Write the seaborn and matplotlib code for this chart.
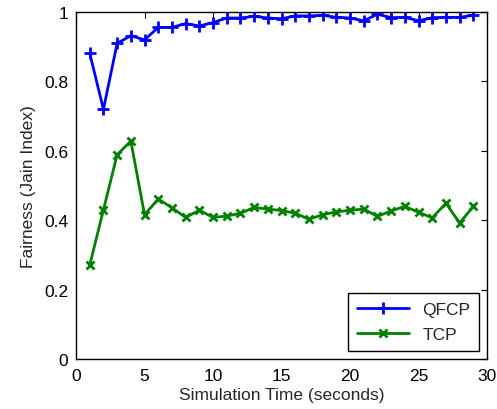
import matplotlib
matplotlib.use("Agg")
import matplotlib.pyplot as plt
import seaborn as sns
import pandas as pd

# values
time_s = list(range(1, 30))
qfcp = [0.881, 0.72, 0.91, 0.932, 0.92, 0.956, 0.956, 0.967, 0.96, 0.97,
        0.983, 0.983, 0.988, 0.983, 0.981, 0.989, 0.989, 0.991, 0.985, 0.983,
        0.975, 0.994, 0.984, 0.985, 0.975, 0.984, 0.985, 0.985, 0.991]
tcp = [0.271, 0.430, 0.589, 0.628, 0.416, 0.461, 0.436, 0.408, 0.429, 0.408,
       0.412, 0.420, 0.437, 0.432, 0.428, 0.420, 0.403, 0.416, 0.424, 0.429,
       0.432, 0.411, 0.427, 0.440, 0.423, 0.407, 0.449, 0.392, 0.440]
x_ticks = [0, 5, 10, 15, 20, 25, 30]
y_ticks = [0, 0.2, 0.4, 0.6, 0.8, 1]

sns.set_style("white")
plt.rcParams['font.family'] = ['Liberation Sans', 'DejaVu Sans']

fig = plt.figure(figsize=(4.97, 4.10), dpi=100)
ax = fig.add_axes([0.153, 0.122, 0.827, 0.846])

# one lineplot per series so the marker edges keep the line colour
sns.lineplot(x=time_s, y=qfcp, color='#0000ff', marker='+', linewidth=2,
             markersize=9, markeredgewidth=2, markeredgecolor='#0000ff',
             label='QFCP', ax=ax)
sns.lineplot(x=time_s, y=tcp, color='#008000', marker='x', linewidth=2,
             markersize=5.5, markeredgewidth=2, markeredgecolor='#008000',
             label='TCP', ax=ax)

ax.set_xlim(0, 30)
ax.set_ylim(0, 1)
ax.set_xticks(x_ticks)
ax.set_yticks(y_ticks)
ax.set_yticklabels(['0', '0.2', '0.4', '0.6', '0.8', '1'])
ax.tick_params(direction='in', length=4, labelsize=12.5, top=True, right=True,
               width=0.8, colors='black')
ax.tick_params(axis='x', pad=6.5)
ax.tick_params(axis='y', pad=5.5)
for s in ax.spines.values():
    s.set_visible(True)
    s.set_color('black')
    s.set_linewidth(1)
ax.set_xlabel('Simulation Time (seconds)', fontsize=12.5, labelpad=3)
ax.set_ylabel('Fairness (Jain Index)', fontsize=12.5, labelpad=6)

leg = ax.legend(loc='lower right', fontsize=12.5, frameon=True, fancybox=False,
                edgecolor='black', handlelength=3.0, borderpad=0.5,
                labelspacing=0.6, borderaxespad=0,
                bbox_to_anchor=(0.981, 0.023))
leg.get_frame().set_linewidth(1)
leg.get_frame().set_alpha(1)

fig.savefig('out.png', dpi=100)
